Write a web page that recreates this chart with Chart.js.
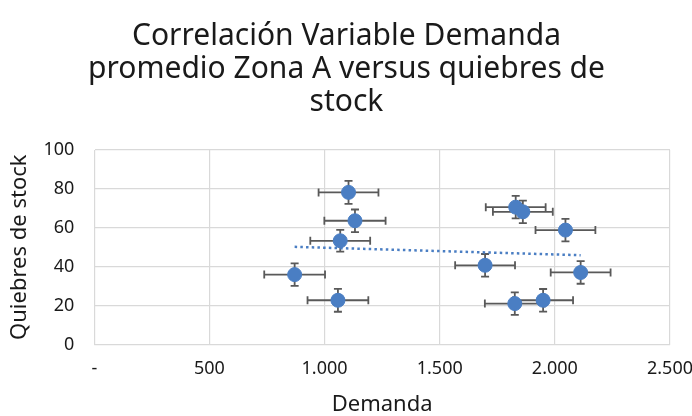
<!DOCTYPE html>
<html>
<head>
<meta charset="utf-8">
<script src="https://cdn.jsdelivr.net/npm/chart.js@4.4.1/dist/chart.umd.min.js"></script>
<style>
  html, body { margin: 0; padding: 0; background: #fff; }
  #wrap { width: 692px; height: 416px; }
</style>
</head>
<body>
<div id="wrap"><canvas id="chart" width="692" height="416"></canvas></div>
<script>
// values
const demanda = [1104, 1132, 1068, 870, 1058, 1830, 1861, 2046, 1697, 2112, 1826, 1949];
const quiebres = [78.2, 63.6, 53.3, 35.9, 22.7, 70.6, 68.2, 58.8, 40.7, 37.0, 21.0, 22.7];
const errDemanda = [130, 133, 130, 132, 132, 130, 130, 130, 130, 130, 130, 130];
const errQuiebres = [5.9, 5.8, 5.6, 5.8, 5.9, 5.8, 5.8, 5.8, 5.8, 5.8, 5.8, 5.8];
const trendX = [870, 2112];
const trendY = [50.2, 45.9];
const xTicks = [0, 500, 1000, 1500, 2000, 2500];

const blue = "#4a7ec3";
const barColor = "#595959";
const font = "'Noto Sans', 'Open Sans', sans-serif";

function fmtThousands(v) {
  if (v === 0) return "-";
  return String(v).replace(/\B(?=(\d{3})+(?!\d))/g, ".");
}

// draws the x/y error bars under the markers
const errorBars = {
  id: "errorBars",
  beforeDatasetsDraw(chart) {
    const ctx = chart.ctx;
    const xs = chart.scales.x;
    const ys = chart.scales.y;
    const cap = 4;
    ctx.save();
    ctx.strokeStyle = barColor;
    ctx.lineWidth = 1.8;
    demanda.forEach((dx, i) => {
      const dy = quiebres[i];
      const px = xs.getPixelForValue(dx);
      const py = ys.getPixelForValue(dy);
      const x0 = xs.getPixelForValue(dx - errDemanda[i]);
      const x1 = xs.getPixelForValue(dx + errDemanda[i]);
      const y0 = ys.getPixelForValue(dy - errQuiebres[i]);
      const y1 = ys.getPixelForValue(dy + errQuiebres[i]);
      ctx.beginPath();
      ctx.moveTo(x0, py); ctx.lineTo(x1, py);
      ctx.moveTo(x0, py - cap); ctx.lineTo(x0, py + cap);
      ctx.moveTo(x1, py - cap); ctx.lineTo(x1, py + cap);
      ctx.moveTo(px, y0); ctx.lineTo(px, y1);
      ctx.moveTo(px - cap, y0); ctx.lineTo(px + cap, y0);
      ctx.moveTo(px - cap, y1); ctx.lineTo(px + cap, y1);
      ctx.stroke();
    });
    ctx.restore();
  },
};

new Chart(document.getElementById("chart"), {
  type: "scatter",
  data: {
    datasets: [
      {
        label: "Quiebres de stock",
        data: demanda.map((x, i) => ({ x: x, y: quiebres[i] })),
        backgroundColor: blue,
        borderColor: blue,
        pointRadius: 7,
        pointHoverRadius: 7,
        order: 1,
      },
      {
        label: "Lineal",
        type: "line",
        data: trendX.map((x, i) => ({ x: x, y: trendY[i] })),
        borderColor: blue,
        borderWidth: 2.5,
        borderDash: [2.5, 3.2],
        pointRadius: 0,
        fill: false,
        order: 2,
      },
    ],
  },
  options: {
    responsive: false,
    animation: false,
    layout: { padding: { top: 20, right: 0, bottom: 0, left: 1 } },
    plugins: {
      legend: { display: false },
      tooltip: { enabled: false },
      title: {
        display: true,
        text: ["Correlación Variable Demanda", "promedio Zona A versus quiebres de", "stock"],
        color: "#1a1a1a",
        font: { family: font, size: 30, weight: "normal", lineHeight: 1.1 },
        padding: { top: 0, bottom: 31 },
      },
    },
    scales: {
      x: {
        type: "linear",
        min: 0,
        max: 2500,
        afterBuildTicks(scale) {
          scale.ticks = xTicks.map((v) => ({ value: v }));
        },
        afterFit(scale) {
          scale.paddingRight = 22;
        },
        ticks: {
          color: "#1a1a1a",
          font: { family: font, size: 18, lineHeight: 1.2 },
          padding: 14,
          callback: (v) => fmtThousands(v),
        },
        grid: { color: "#d9d9d9", lineWidth: 1.2, drawTicks: false },
        border: { color: "#d9d9d9" },
        title: {
          display: true,
          text: "Demanda",
          color: "#1a1a1a",
          font: { family: font, size: 22, lineHeight: 1.0 },
          padding: { top: 0, bottom: 0 },
        },
      },
      y: {
        min: 0,
        max: 100,
        ticks: {
          stepSize: 20,
          color: "#1a1a1a",
          font: { family: font, size: 18 },
          padding: 20,
        },
        grid: { color: "#d9d9d9", lineWidth: 1.2, drawTicks: false },
        border: { color: "#d9d9d9" },
        title: {
          display: true,
          text: "Quiebres de stock",
          color: "#1a1a1a",
          font: { family: font, size: 22, lineHeight: 1.2 },
          padding: { top: 6, bottom: -10 },
        },
      },
    },
  },
  plugins: [errorBars],
});
</script>
</body>
</html>
